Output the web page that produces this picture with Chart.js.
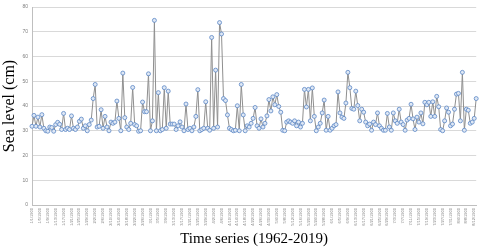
<!DOCTYPE html>
<html>
<head>
<meta charset="utf-8">
<script src="https://cdn.jsdelivr.net/npm/chart.js@4"></script>
<style>
  html, body { margin: 0; padding: 0; background: #fff; }
  #wrap { width: 484px; height: 248px; position: relative; }
</style>
</head>
<body>
<div id="wrap"><canvas id="seaChart"></canvas></div>
<script>
// Sea level readings (cm)
const seaLevel = [
  31.8, 36.2, 31.8, 35.5, 31.5, 36.5, 31.0, 30.0, 29.8, 31.5,
  31.3, 29.8, 32.5, 33.4, 32.6, 30.5, 37.0, 30.5, 31.0, 30.5,
  36.0, 31.0, 30.5, 31.5, 33.8, 34.7, 31.0, 32.0, 30.0, 32.5,
  34.3, 43.0, 48.7, 31.5, 31.8, 38.5, 31.0, 35.8, 31.5, 30.0,
  33.5, 33.0, 33.5, 42.0, 35.0, 30.0, 53.3, 35.3, 31.5, 30.5,
  33.0, 47.5, 32.5, 32.0, 29.8, 30.0, 41.6, 37.7, 37.7, 53.0,
  30.0, 34.0, 74.6, 30.0, 45.4, 30.0, 30.5, 47.4, 31.0, 46.0,
  32.7, 32.7, 32.7, 30.5, 32.0, 33.6, 31.5, 30.0, 40.8, 30.5,
  31.0, 30.0, 31.5, 35.8, 46.6, 30.0, 30.5, 31.0, 41.7, 31.0,
  30.2, 67.7, 31.0, 54.5, 31.5, 73.7, 69.1, 43.0, 42.2, 36.4,
  31.0, 30.5, 30.0, 30.2, 40.1, 30.0, 48.7, 36.4, 30.0, 32.0,
  31.5, 33.0, 35.0, 39.4, 32.0, 31.0, 34.8, 31.5, 33.0, 36.0,
  42.6, 38.0, 43.7, 40.5, 44.6, 39.8, 37.5, 30.2, 30.0, 33.5,
  34.0, 33.5, 33.0, 34.0, 32.0, 33.5, 31.5, 33.0, 46.7, 39.6,
  46.7, 34.0, 47.3, 35.8, 30.0, 31.5, 33.0, 37.2, 42.4, 30.2,
  35.8, 30.2, 31.0, 32.0, 32.5, 45.7, 37.2, 35.5, 35.0, 41.2,
  53.6, 47.4, 39.0, 38.7, 46.0, 40.2, 34.0, 38.7, 37.5, 33.5,
  32.0, 32.7, 30.2, 33.5, 32.5, 37.2, 32.0, 31.0, 30.2, 30.2,
  37.0, 31.5, 30.2, 37.2, 34.0, 33.0, 38.7, 33.5, 32.5, 30.2,
  34.3, 35.0, 40.7, 34.8, 30.5, 35.5, 33.5, 37.2, 32.8, 41.5,
  40.5, 41.5, 35.8, 41.7, 35.8, 43.9, 39.7, 30.5, 30.0, 34.0,
  39.2, 37.5, 32.0, 32.7, 38.7, 44.8, 45.1, 34.0, 53.6, 30.2,
  38.7, 38.3, 33.0, 33.5, 35.0, 43.0
];

// Category labels shown on the x axis (one every tickStep points)
const tickStep = 4;
const tickLabels = [
  '1/1/1900', '1/5/1900', '1/9/1900', '1/13/1900', '1/17/1900', '1/21/1900',
  '1/25/1900', '1/29/1900', '2/2/1900', '2/6/1900', '2/10/1900', '2/14/1900',
  '2/18/1900', '2/22/1900', '2/26/1900', '3/1/1900', '3/5/1900', '3/9/1900',
  '3/13/1900', '3/17/1900', '3/21/1900', '3/25/1900', '3/29/1900', '4/2/1900',
  '4/6/1900', '4/10/1900', '4/14/1900', '4/18/1900', '4/22/1900', '4/26/1900',
  '4/30/1900', '5/4/1900', '5/8/1900', '5/12/1900', '5/16/1900', '5/20/1900',
  '5/24/1900', '5/28/1900', '6/1/1900', '6/5/1900', '6/9/1900', '6/13/1900',
  '6/17/1900', '6/21/1900', '6/25/1900', '6/29/1900', '7/3/1900', '7/7/1900',
  '7/11/1900', '7/15/1900', '7/19/1900', '7/23/1900', '7/27/1900', '7/31/1900',
  '8/4/1900', '8/8/1900', '8/12/1900'
];

// y axis ticks
const yMin = 0;
const yMax = 80;
const yStep = 10;

const categories = seaLevel.map((_, i) => (i % tickStep === 0 ? tickLabels[i / tickStep] : ''));

const serif = '"Liberation Serif", "Times New Roman", serif';
const sans = '"Liberation Sans", Arial, sans-serif';

new Chart(document.getElementById('seaChart'), {
  type: 'line',
  data: {
    labels: categories,
    datasets: [{
      data: seaLevel,
      borderColor: '#8f8f8f',
      borderWidth: 1,
      pointRadius: 2,
      pointBorderWidth: 0.8,
      pointBorderColor: '#5b86c5',
      pointBackgroundColor: '#dfe8f5',
      tension: 0,
    }],
  },
  options: {
    responsive: true,
    maintainAspectRatio: false,
    animation: false,
    layout: { padding: { top: 3, right: 3, left: 0, bottom: 0 } },
    plugins: { legend: { display: false }, tooltip: { enabled: false } },
    scales: {
      x: {
        offset: false,
        grid: { display: false, drawTicks: false },
        border: { color: '#bfbfbf' },
        ticks: {
          autoSkip: false,
          maxRotation: 90,
          minRotation: 90,
          padding: 3,
          color: '#7f7f7f',
          font: { family: sans, size: 4 },
        },
        title: {
          display: true,
          text: 'Time series (1962-2019)',
          color: '#000',
          font: { family: serif, size: 15 },
          padding: { top: 1, bottom: 0 },
        },
        afterFit: (scale) => { scale.height = 43; },
      },
      y: {
        min: yMin,
        max: yMax,
        grid: { color: '#d9d9d9', drawTicks: false },
        border: { color: '#bfbfbf' },
        ticks: {
          stepSize: yStep,
          padding: 4,
          color: '#7f7f7f',
          font: { family: sans, size: 5 },
        },
        title: {
          display: true,
          text: 'Sea level (cm)',
          color: '#000',
          font: { family: serif, size: 16 },
          padding: { top: 0, bottom: 3 },
        },
        afterFit: (scale) => { scale.width = 32; },
      },
    },
  },
});
</script>
</body>
</html>
